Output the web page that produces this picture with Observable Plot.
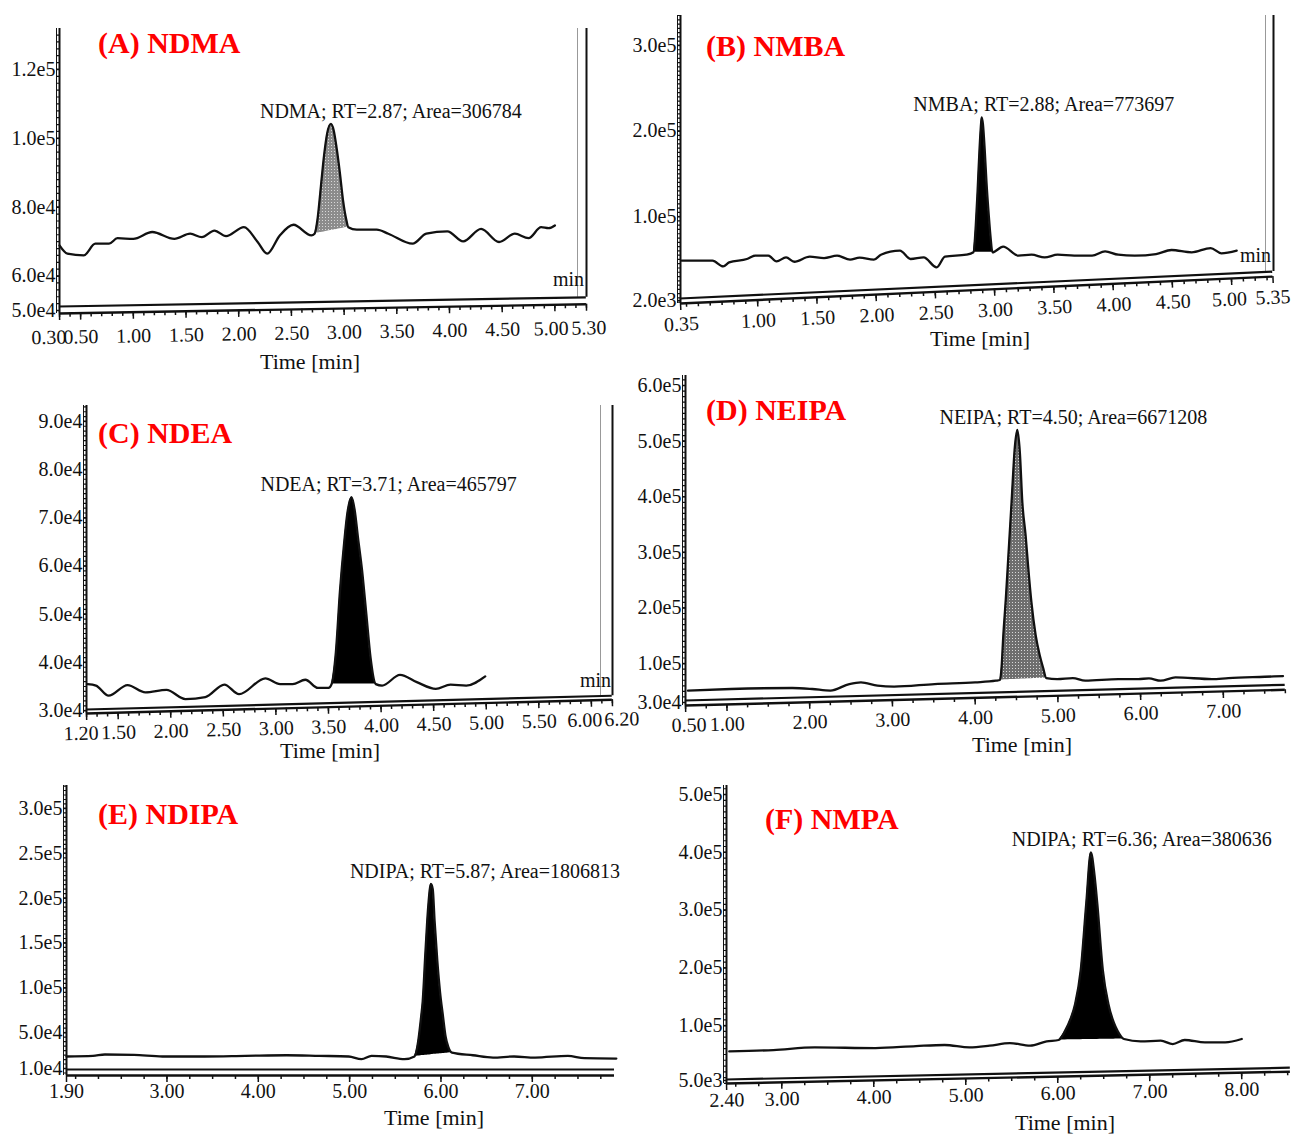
<!DOCTYPE html>
<html><head><meta charset="utf-8">
<script src="https://cdn.jsdelivr.net/npm/d3@7"></script>
<script src="https://cdn.jsdelivr.net/npm/@observablehq/plot@0.6"></script>
<style>
body{margin:0;background:#fff;}
#fig{position:relative;width:1291px;height:1135px;background:#fff;overflow:hidden;font-family:"Liberation Serif","Times New Roman",serif;}
#fig svg{position:absolute;max-width:none;}
</style></head><body><div id="fig"></div>
<script>
// ---------------- DATA ----------------
// (A) NDMA
const titleA = "(A) NDMA";
const annotationA = "NDMA; RT=2.87; Area=306784";
const timeA   = [0.30,0.375,0.53,0.64,0.77,0.85,1.00,1.18,1.39,1.54,1.65,1.77,1.88,2.05,2.18,2.27,2.39,2.52,2.69,2.72,3.04,3.12,3.31,3.42,3.65,3.78,3.98,4.13,4.30,4.47,4.62,4.75,4.87,4.94,5.00];
const signalA = [68900,66500,66000,69400,69400,71000,70800,72800,70800,72300,71300,73200,71600,74200,69900,66500,71800,74900,71800,72300,74200,73500,73500,72300,69400,72300,73000,70100,73700,69900,72300,71000,74200,73900,74700];
const peakTimeA   = [2.72,2.75,2.78,2.81,2.84,2.875,2.90,2.93,2.96,2.99,3.02,3.04];
const peakSignalA = [72300,77000,86000,95000,101500,104200,102500,97000,90000,82000,76500,74200];
const xTicksA = ["0.30","0.50","1.00","1.50","2.00","2.50","3.00","3.50","4.00","4.50","5.00","5.30"];
const yTicksA = ["5.0e4","6.0e4","8.0e4","1.0e5","1.2e5"];

// (B) NMBA
const titleB = "(B) NMBA";
const annotationB = "NMBA; RT=2.88; Area=773697";
const timeB   = [0.36,0.62,0.71,0.76,0.91,0.98,1.09,1.16,1.24,1.31,1.44,1.56,1.67,1.78,1.86,1.98,2.04,2.20,2.29,2.40,2.51,2.58,2.76,2.82,2.98,3.07,3.20,3.31,3.42,3.53,3.67,3.82,3.93,4.04,4.18,4.36,4.49,4.66,4.82,4.91,5.04];
const signalB = [48500,48500,41900,46500,50500,54400,54400,47700,52400,47300,53200,51600,54400,49700,52000,49700,55500,60200,50500,52400,40700,53200,55500,58300,58300,64900,54400,55500,52400,55500,54400,54400,59400,55500,54400,56300,61000,58300,63300,57100,60200];
const peakTimeB   = [2.82,2.84,2.855,2.87,2.885,2.89,2.90,2.915,2.93,2.95,2.965,2.98];
const peakSignalB = [58300,90000,130000,175000,210000,216000,208000,178000,140000,100000,75000,58300];
const xTicksB = ["0.35","1.00","1.50","2.00","2.50","3.00","3.50","4.00","4.50","5.00","5.35"];
const yTicksB = ["2.0e3","1.0e5","2.0e5","3.0e5"];

// (C) NDEA
const titleC = "(C) NDEA";
const annotationC = "NDEA; RT=3.71; Area=465797";
const timeC   = [1.21,1.29,1.41,1.59,1.76,1.96,2.14,2.33,2.51,2.65,2.90,3.04,3.16,3.28,3.40,3.50,3.53,3.95,4.01,4.18,4.34,4.52,4.66,4.81,4.99];
const signalC = [35500,35200,33100,35300,33800,34300,32400,32800,35400,33400,36700,35500,35500,36400,34700,34700,35500,35500,35200,37400,35900,34500,35400,35200,37100];
const peakTimeC   = [3.53,3.57,3.61,3.65,3.68,3.72,3.75,3.78,3.82,3.86,3.90,3.95];
const peakSignalC = [35500,42000,55000,65000,71000,74300,71500,66000,59000,50000,41000,35500];
const xTicksC = ["1.20","1.50","2.00","2.50","3.00","3.50","4.00","4.50","5.00","5.50","6.00","6.20"];
const yTicksC = ["3.0e4","4.0e4","5.0e4","6.0e4","7.0e4","8.0e4","9.0e4"];

// (D) NEIPA
const titleD = "(D) NEIPA";
const annotationD = "NEIPA; RT=4.50; Area=6671208";
const timeD   = [0.53,1.05,1.79,2.03,2.25,2.48,2.62,2.82,3.02,3.51,4.00,4.25,4.30,4.86,4.99,5.18,5.33,5.73,5.97,6.10,6.24,6.42,6.86,7.06,7.50,7.72];
const signalD = [51400,54300,56100,54300,51400,63200,66200,60300,58500,63200,66200,69200,70400,73900,72100,73900,69200,72100,72100,73300,69200,75100,72100,73900,76300,77500];
const peakTimeD   = [4.30,4.32,4.34,4.37,4.40,4.44,4.48,4.51,4.54,4.57,4.61,4.64,4.68,4.73,4.78,4.82,4.86];
const peakSignalD = [70400,95000,150000,215000,290000,390000,490000,520000,480000,390000,330000,275000,210000,152000,115000,93000,73900];
const xTicksD = ["0.50","1.00","2.00","3.00","4.00","5.00","6.00","7.00"];
const yTicksD = ["3.0e4","1.0e5","2.0e5","3.0e5","4.0e5","5.0e5","6.0e5"];

// (E) NDIPA
const titleE = "(E) NDIPA";
const annotationE = "NDIPA; RT=5.87; Area=1806813";
const timeE   = [1.90,2.19,2.32,2.64,2.95,3.41,3.86,4.31,4.67,4.99,5.13,5.24,5.40,5.60,5.71,6.12,6.35,6.57,6.80,7.03,7.39,7.57,7.92];
const signalE = [23400,24100,25600,25200,23400,23400,24100,24800,24100,23400,20400,24100,23400,20400,23400,27800,24800,22200,23400,22200,24100,21500,21100];
const peakTimeE   = [5.71,5.75,5.78,5.80,5.83,5.86,5.89,5.91,5.93,5.96,5.99,6.02,6.05,6.08,6.12];
const peakSignalE = [23400,40000,65000,85000,140000,190000,216000,210000,175000,130000,95000,70000,46000,34000,27800];
const xTicksE = ["1.90","3.00","4.00","5.00","6.00","7.00"];
const yTicksE = ["1.0e4","5.0e4","1.0e5","1.5e5","2.0e5","2.5e5","3.0e5"];

// (F) NMPA
const titleF = "(F) NMPA";
const annotationF = "NDIPA; RT=6.36; Area=380636";
const timeF   = [2.43,2.91,3.36,4.02,4.46,4.77,5.04,5.26,5.48,5.70,5.88,6.01,6.72,6.90,7.12,7.25,7.38,7.60,7.82,8.00];
const signalF = [55300,57700,62300,61100,64600,66400,62300,65200,69800,65200,72700,75100,76800,72700,73900,68100,75100,71000,71000,76800];
const peakTimeF   = [6.01,6.08,6.14,6.19,6.25,6.31,6.36,6.40,6.43,6.49,6.55,6.61,6.65,6.72];
const peakSignalF = [75100,91000,112000,138000,196000,311000,400000,360000,311000,196000,138000,105000,91000,76800];
const xTicksF = ["2.40","3.00","4.00","5.00","6.00","7.00","8.00"];
const yTicksF = ["5.0e3","1.0e5","2.0e5","3.0e5","4.0e5","5.0e5"];

const axisTitle = "Time [min]";
const unitLabel = "min";

// ---------------- LAYOUT ----------------
const panels = [
  {data:{time:timeA,signal:signalA,peakTime:peakTimeA,peakSignal:peakSignalA,xTicks:xTicksA,yTicks:yTicksA,annotation:annotationA},
   L:{left:0,top:0,width:640,height:390,mL:59,mR:54,mT:28,mB:77,x:[0.30,5.30],y:[49130,131900],tilt:-1.0,gap:-7,labelDy:16,shift:{"0.30":-11,"5.00":-4,"5.30":2},minorX:0.1,minorY:2000,stipple:"#8c8c8c",peakDx:60,frame:-9}},
  {data:{time:timeB,signal:signalB,peakTime:peakTimeB,peakSignal:peakSignalB,xTicks:xTicksB,yTicks:yTicksB,annotation:annotationB},
   L:{left:640,top:0,width:651,height:390,mL:40,mR:18,mT:15,mB:87,x:[0.35,5.35],y:[-1500,335000],tilt:-2.6,gap:-5,labelDy:13,shift:{"5.00":-3,"5.35":-1},minorX:0.1,minorY:5000,stipple:null,peakDx:62,frame:-8}},
  {data:{time:timeC,signal:signalC,peakTime:peakTimeC,peakSignal:peakSignalC,xTicks:xTicksC,yTicks:yTicksC,annotation:annotationC},
   L:{left:0,top:390,width:645,height:380,mL:86,mR:33,mT:15,mB:57,x:[1.20,6.20],y:[29400,93300],tilt:-1.5,gap:-4,labelDy:12,shift:{"1.20":-6,"6.00":-7,"6.20":9},minorX:0.1,minorY:1000,stipple:null,peakDx:37,frame:-12}},
  {data:{time:timeD,signal:signalD,peakTime:peakTimeD,peakSignal:peakSignalD,xTicks:xTicksD,yTicks:yTicksD,annotation:annotationD},
   L:{left:645,top:370,width:646,height:400,mL:40,mR:6,mT:5,mB:65,x:[0.50,7.75],y:[24600,618000],tilt:-1.5,gap:-5,labelDy:12,shift:{"0.50":3},minorX:0.25,minorY:10000,stipple:"#6e6e6e",peakDx:56,frame:null}},
  {data:{time:timeE,signal:signalE,peakTime:peakTimeE,peakSignal:peakSignalE,xTicks:xTicksE,yTicks:yTicksE,annotation:annotationE},
   L:{left:0,top:770,width:645,height:365,mL:66,mR:31,mT:15,mB:60,x:[1.90,7.90],y:[2200,325600],tilt:0,gap:-6,labelDy:8,shift:{},minorX:0.25,minorY:5000,stipple:null,peakDx:54,frame:null}},
  {data:{time:timeF,signal:signalF,peakTime:peakTimeF,peakSignal:peakSignalF,xTicks:xTicksF,yTicks:yTicksF,annotation:annotationF},
   L:{left:645,top:770,width:646,height:365,mL:81,mR:1,mT:15,mB:52,x:[2.40,8.53],y:[-200,515600],tilt:-1.2,gap:-4,labelDy:9,shift:{},minorX:0.25,minorY:10000,stipple:null,peakDx:51,frame:null}}
];

const overlayText = [
  {text:titleA, x:98, y:53, cls:"title"},
  {text:titleB, x:706, y:56, cls:"title"},
  {text:titleC, x:98, y:443, cls:"title"},
  {text:titleD, x:706, y:420, cls:"title"},
  {text:titleE, x:98, y:824, cls:"title"},
  {text:titleF, x:765, y:829, cls:"title"},
  {text:axisTitle, x:310, y:369, cls:"axis"},
  {text:axisTitle, x:980, y:346, cls:"axis"},
  {text:axisTitle, x:330, y:758, cls:"axis"},
  {text:axisTitle, x:1022, y:752, cls:"axis"},
  {text:axisTitle, x:434, y:1125, cls:"axis"},
  {text:axisTitle, x:1065, y:1130, cls:"axis"},
  {text:unitLabel, x:553, y:286, cls:"unit"},
  {text:unitLabel, x:1240, y:262, cls:"unit"},
  {text:unitLabel, x:580, y:687, cls:"unit"}
];

// ---------------- DRAW ----------------
const FONT = '"Liberation Serif","Times New Roman",serif';
const BASE_STROKE = "#101010";   // marker colour for the tilted baseline rules
const LABEL_FILL = "#121212";    // marker colour for the tilted x tick labels
const fig = document.getElementById("fig");
const NS = "http://www.w3.org/2000/svg";

function stepTicks(a, b, step) {
  const out = [];
  for (let k = Math.ceil(a / step - 1e-9); k * step <= b + 1e-9; k++) out.push(+(k * step).toFixed(6));
  return out;
}

function drawPanel({data: D, L}, idx) {
  const peak = D.peakTime.map((t, i) => ({t, v: D.peakSignal[i]}));
  const p0 = peak[0], p1 = peak[peak.length - 1];
  peak.forEach(p => p.base = p0.v + (p1.v - p0.v) * (p.t - p0.t) / (p1.t - p0.t));
  const pts = D.time.map((t, i) => ({t, v: D.signal[i]}));
  const trace = [...pts.filter(p => p.t < p0.t), ...peak, ...pts.filter(p => p.t > p1.t)];
  const apex = peak[d3.maxIndex(peak, p => p.v)];
  const yLabel = new Map(D.yTicks.map(s => [Number(s), s]));
  const xMajor = D.xTicks.map(Number);
  const patternId = "stipple" + idx;
  const peakFill = L.stipple ? `url(#${patternId})` : "#000";

  const marks = [
    Plot.areaY(peak, {x: "t", y1: "base", y2: "v", fill: peakFill, curve: "monotone-x"}),
    Plot.line(trace, {x: "t", y: "v", stroke: "#111", strokeWidth: 2.3, curve: "monotone-x"}),
    Plot.ruleX([L.x[0]], {stroke: "#111", strokeWidth: 2}),
    Plot.ruleX([L.x[0]], {stroke: "#111", strokeWidth: 1, dx: -3}),
    Plot.axisY({ticks: D.yTicks.map(Number), tickFormat: v => yLabel.get(v), tickSize: 3, tickPadding: 1, fontSize: 20, label: null, strokeWidth: 1.5}),
    Plot.axisY({ticks: stepTicks(L.y[0], L.y[1], L.minorY), tickSize: 2, tickFormat: () => "", label: null, strokeWidth: 1.2}),
    Plot.ruleY([L.y[0]], {stroke: BASE_STROKE, strokeWidth: 2.4}),
    Plot.ruleY([L.y[0]], {stroke: BASE_STROKE, strokeWidth: 2.2, dy: L.gap}),
    Plot.axisX({ticks: xMajor, tickSize: 7, tickFormat: () => "", label: null, strokeWidth: 1.5}),
    Plot.axisX({ticks: stepTicks(L.x[0], L.x[1], L.minorX), tickSize: 4, tickFormat: () => "", label: null, strokeWidth: 1.5}),
    Plot.text([apex], {x: "t", y: "v", text: () => D.annotation, dx: L.peakDx, dy: -6, lineAnchor: "bottom", fontSize: 20})
  ];
  if (L.frame !== null) {
    // right frame stops where the tilted upper baseline meets it
    const plotW = L.width - L.mL - L.mR, plotH = L.height - L.mT - L.mB;
    const risePx = plotW * Math.tan(-L.tilt * Math.PI / 180) - L.gap;
    const yStop = L.y[0] + (risePx / plotH) * (L.y[1] - L.y[0]);
    marks.push(Plot.ruleX([L.x[1]], {y1: yStop, y2: L.y[1], stroke: "#111", strokeWidth: 2}));
    marks.push(Plot.ruleX([L.x[1]], {y1: yStop, y2: L.y[1], stroke: "#999", strokeWidth: 1, dx: L.frame}));
  }
  const groups = d3.group(D.xTicks, s => L.shift[s] || 0);
  for (const [dx, labels] of groups) {
    marks.push(Plot.text(labels, {x: s => +s, text: s => s, frameAnchor: "bottom", lineAnchor: "top", dy: L.labelDy, dx, fontSize: 20, fill: LABEL_FILL}));
  }

  const svg = Plot.plot({
    width: L.width, height: L.height,
    marginLeft: L.mL, marginRight: L.mR, marginTop: L.mT, marginBottom: L.mB,
    x: {domain: L.x}, y: {domain: L.y},
    style: {background: "transparent", overflow: "visible", fontFamily: FONT, fontSize: "20px", color: "#111"},
    marks
  });
  svg.style.left = L.left + "px";
  svg.style.top = L.top + "px";
  if (L.stipple) {
    const defs = d3.select(svg).insert("defs", ":first-child");
    const pat = defs.append("pattern").attr("id", patternId).attr("width", 3).attr("height", 3).attr("patternUnits", "userSpaceOnUse");
    pat.append("rect").attr("width", 3).attr("height", 3).attr("fill", L.stipple);
    pat.append("rect").attr("x", 1).attr("y", 1).attr("width", 1).attr("height", 1).attr("fill", "#d8d8d8");
  }
  const wrap = document.createElementNS(NS, "g");
  wrap.setAttribute("transform", `rotate(${L.tilt} ${L.mL} ${L.height - L.mB})`);
  const sel = `g[aria-label="x-axis tick"], g[aria-label="x-axis tick label"], g[stroke="${BASE_STROKE}"], g[fill="${LABEL_FILL}"]`;
  Array.from(svg.querySelectorAll(sel)).forEach(g => wrap.appendChild(g));
  svg.appendChild(wrap);
  fig.appendChild(svg);
}
panels.forEach(drawPanel);

// overlay for titles and axis labels
const ov = d3.select(fig).append("svg").attr("width", 1291).attr("height", 1135)
  .style("left", "0px").style("top", "0px").style("font-family", FONT).style("pointer-events", "none");
ov.selectAll("text").data(overlayText).join("text")
  .attr("x", d => d.x).attr("y", d => d.y)
  .attr("text-anchor", d => d.cls === "axis" ? "middle" : "start")
  .attr("font-size", d => d.cls === "title" ? 30 : d.cls === "axis" ? 22 : 20)
  .attr("font-weight", d => d.cls === "title" ? "bold" : "normal")
  .attr("fill", d => d.cls === "title" ? "#ff0000" : "#111")
  .text(d => d.text);
</script>
</body></html>
